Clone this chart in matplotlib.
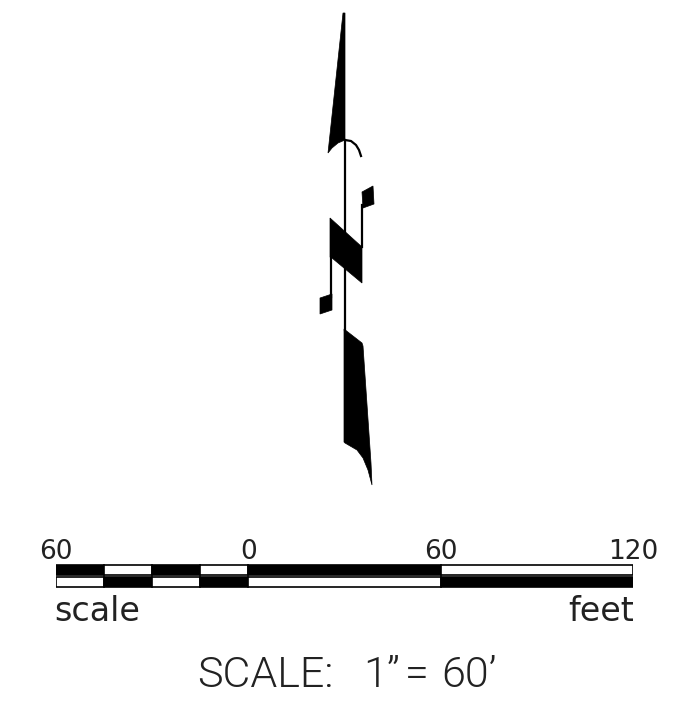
import matplotlib
matplotlib.use('Agg')
import matplotlib.pyplot as plt

# north arrow outlines in pixels
spear = [(343, 13), (345, 13), (345, 140), (338, 143), (332, 148), (328, 153)]
arc = [(345, 140), (351, 141), (356, 145), (359, 150), (361, 156)]
shaft = [(344.5, 140), (344.5, 330)]
middle = [(330, 218), (362, 247), (362, 283), (332, 258), (330, 257)]
upper_stem = [(362, 247), (362, 205)]
upper_flag = [(362, 192), (373, 186), (374, 204), (363, 208)]
lower_stem = [(331, 258), (331, 297)]
lower_flag = [(320, 298), (332, 294), (332, 310), (320, 314)]
tail = [(344, 329), (362, 343), (363, 346), (371, 463), (372, 485), (368, 470),
        (363, 458), (357, 450), (345, 443), (344, 442)]

# scale bar in feet
bar_left = [-60, -45, -30, -15, 0, 60]
bar_width = [15, 15, 15, 15, 60, 60]
top_colors = ['k', 'w', 'k', 'w', 'k', 'w']
bottom_colors = ['w', 'k', 'w', 'k', 'w', 'k']
tick_feet = [-60, 0, 60, 120]
tick_labels = ['60', '0', '60', '120']

W, H = 690, 716
fig = plt.figure(figsize=(W / 100, H / 100), dpi=100)
plt.rcParams['font.family'] = ['DejaVu Sans']

ax = fig.add_axes([0, 0, 1, 1])
ax.set_xlim(0, W)
ax.set_ylim(H, 0)
ax.axis('off')

for shape in [spear, middle, upper_flag, lower_flag, tail]:
    ax.fill(*zip(*shape), color='k', lw=0.5)
ax.plot(*zip(*arc), color='k', lw=1.6)
for line in [shaft, upper_stem, lower_stem]:
    ax.plot(*zip(*line), color='k', lw=1.6)

# bar axes runs in feet
bar_ax = fig.add_axes([56 / W, 1 - 588 / H, 577 / W, 24 / H])
bar_ax.set_xlim(-60, 120)
bar_ax.set_ylim(0, 2)
bar_ax.axis('off')
bar_ax.barh(1.5, bar_width, left=bar_left, height=0.86, color=top_colors, edgecolor='k', lw=1.2)
bar_ax.barh(0.5, bar_width, left=bar_left, height=0.86, color=bottom_colors, edgecolor='k', lw=1.2)
for f, lab in zip(tick_feet, tick_labels):
    bar_ax.annotate(lab, (f, 2), xytext=(0, 3.5), textcoords='offset points',
                    ha='center', va='baseline', fontsize=19, color='#222222')

ax.text(54, 621, 'scale', fontsize=24, ha='left', va='baseline', color='#222222')
ax.text(634, 621, 'feet', fontsize=24, ha='right', va='baseline', color='#222222')
big = dict(family='Roboto', fontweight=300, fontsize=31, va='baseline', color='#222222')
ax.text(197, 687, 'SCALE:', ha='left', **big)
ax.text(363, 687, '1”', ha='left', **big)
ax.text(405, 687, '=', ha='left', **big)
ax.text(441, 687, '60’', ha='left', **big)

fig.savefig('out.png', dpi=100)
